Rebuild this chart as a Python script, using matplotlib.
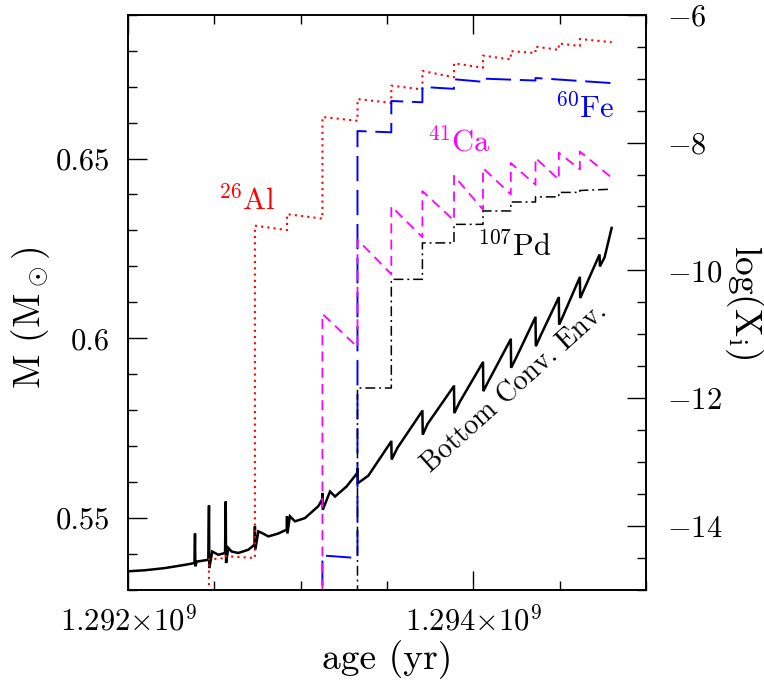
import numpy as np
import matplotlib
matplotlib.use("Agg")
import matplotlib.pyplot as plt
from matplotlib.ticker import FixedLocator, MultipleLocator, FixedFormatter

plt.rcParams["font.family"] = "serif"
plt.rcParams["font.serif"] = ["cmr10"]
plt.rcParams["mathtext.fontset"] = "cm"
plt.rcParams["axes.formatter.use_mathtext"] = True
plt.rcParams["axes.unicode_minus"] = False

# ages are in Myr after AGE0
AGE0 = 1.292e9

# bottom of the convective envelope (left axis, Msun)
env_age = [0.000, 0.100, 0.214, 0.330, 0.385, 0.388, 0.390, 0.398, 0.465, 0.469,
           0.471, 0.488, 0.523, 0.562, 0.566, 0.568, 0.581, 0.600, 0.639, 0.697,
           0.733, 0.735, 0.737, 0.755, 0.774, 0.813, 0.870, 0.919, 0.921, 0.923,
           0.938, 0.967, 1.025, 1.102, 1.124, 1.126, 1.128, 1.170, 1.199, 1.266,
           1.327, 1.329, 1.331, 1.392, 1.523, 1.525, 1.527, 1.560, 1.703, 1.705,
           1.707, 1.735, 1.886, 1.888, 1.890, 1.920, 2.054, 2.056, 2.058, 2.090,
           2.215, 2.217, 2.219, 2.250, 2.358, 2.360, 2.362, 2.390, 2.493, 2.495,
           2.497, 2.525, 2.615, 2.617, 2.619, 2.645, 2.731, 2.733, 2.760, 2.801]
env_mass = [0.5352, 0.5355, 0.5361, 0.5370, 0.5375, 0.5457, 0.5366, 0.5379, 0.5384, 0.5535,
            0.5361, 0.5407, 0.5398, 0.5403, 0.5546, 0.5375, 0.5417, 0.5407, 0.5403, 0.5412,
            0.5426, 0.5477, 0.5412, 0.5463, 0.5459, 0.5449, 0.5457, 0.5468, 0.5505, 0.5457,
            0.5505, 0.5491, 0.5500, 0.5533, 0.5551, 0.5570, 0.5523, 0.5574, 0.5560, 0.5588,
            0.5625, 0.5639, 0.5597, 0.5618, 0.5712, 0.5712, 0.5663, 0.5695, 0.5797, 0.5797,
            0.5732, 0.5762, 0.5866, 0.5866, 0.5792, 0.5822, 0.5932, 0.5932, 0.5853, 0.5883,
            0.5996, 0.5996, 0.5918, 0.5948, 0.6057, 0.6057, 0.5978, 0.6008, 0.6112, 0.6112,
            0.6038, 0.6068, 0.6168, 0.6168, 0.6112, 0.6140, 0.6233, 0.6200, 0.6225, 0.6307]

# log abundances (right axis)
al_age = [0.469, 0.469, 0.566, 0.566, 0.735, 0.735, 0.921, 0.921, 1.126, 1.126,
          1.329, 1.329, 1.525, 1.525, 1.705, 1.705, 1.888, 1.888, 2.056, 2.056,
          2.217, 2.217, 2.360, 2.360, 2.495, 2.495, 2.617, 2.617, 2.801]
al_logx = [-16.0, -14.52, -14.50, -14.47, -14.50, -9.30, -9.37, -9.12, -9.19, -7.60,
           -7.66, -7.32, -7.38, -7.11, -7.17, -6.88, -6.98, -6.76, -6.83, -6.64,
           -6.70, -6.57, -6.60, -6.50, -6.55, -6.45, -6.49, -6.38, -6.43]

fe_age = [1.126, 1.126, 1.329, 1.329, 1.525, 1.525, 1.705, 1.705, 1.888, 1.888,
          2.056, 2.056, 2.360, 2.360, 2.801]
fe_logx = [-16.0, -14.46, -14.50, -7.82, -7.84, -7.35, -7.37, -7.13, -7.16, -7.01,
           -7.05, -7.00, -7.03, -6.99, -7.07]

ca_age = [1.126, 1.126, 1.329, 1.329, 1.525, 1.525, 1.705, 1.705, 1.888, 1.888,
          2.056, 2.056, 2.217, 2.217, 2.360, 2.360, 2.495, 2.495, 2.617, 2.617, 2.801]
ca_logx = [-16.0, -10.68, -11.20, -9.52, -10.06, -9.00, -9.48, -8.76, -9.22, -8.52,
           -9.05, -8.40, -8.81, -8.32, -8.66, -8.24, -8.58, -8.16, -8.42, -8.14, -8.55]

pd_age = [1.329, 1.329, 1.525, 1.525, 1.705, 1.705, 1.888, 1.888, 2.056, 2.056,
          2.217, 2.217, 2.360, 2.360, 2.495, 2.495, 2.617, 2.617, 2.801]
pd_logx = [-16.0, -11.84, -11.84, -10.14, -10.14, -9.57, -9.57, -9.28, -9.28, -9.07,
           -9.07, -8.93, -8.93, -8.85, -8.85, -8.78, -8.78, -8.75, -8.73]

x_ticks = [1.292e9, 1.294e9]
x_ticklabels = [r"$1.292{\times}10^9$", r"$1.294{\times}10^9$"]
m_ticks = [0.55, 0.6, 0.65]
m_ticklabels = ["0.55", "0.6", "0.65"]
logx_ticks = [-14, -12, -10, -8, -6]
logx_ticklabels = [r"$-14$", r"$-12$", r"$-10$", r"$-8$", r"$-6$"]


def to_age(t):
    return AGE0 + 1e6 * np.asarray(t)


TICK_FS = 22
LABEL_FS = 27
ISO_FS = 22

fig = plt.figure(figsize=(7.64, 6.83), dpi=100)
ax = fig.add_axes([128 / 764, 1 - 590 / 683, 518 / 764, 575.3 / 683])
ax2 = ax.twinx()

ax.plot(to_age(env_age), env_mass, color="black", lw=1.8, solid_joinstyle="miter")

ax2.plot(to_age(al_age), al_logx, color="#ff0000", lw=1.5, linestyle=(0, (1, 2)))
ax2.plot(to_age(fe_age), fe_logx, color="#0000ff", lw=1.4, linestyle=(0, (13, 4.5)))
ax2.plot(to_age(ca_age), ca_logx, color="#ff00ff", lw=1.3, linestyle=(0, (5.5, 3.5)))
ax2.plot(to_age(pd_age), pd_logx, color="black", lw=1.1,
         linestyle=(0, (6.5, 2.5, 1.3, 2.5)))

ax.set_xlim(1.292e9, 1.295e9)
ax.set_ylim(0.53, 0.69)
ax2.set_ylim(-15, -6)

ax.xaxis.set_major_locator(FixedLocator(x_ticks))
ax.xaxis.set_major_formatter(FixedFormatter(x_ticklabels))
ax.xaxis.set_minor_locator(MultipleLocator(0.5e6))
ax.yaxis.set_major_locator(FixedLocator(m_ticks))
ax.yaxis.set_major_formatter(FixedFormatter(m_ticklabels))
ax.yaxis.set_minor_locator(MultipleLocator(0.01))
ax2.yaxis.set_major_locator(FixedLocator(logx_ticks))
ax2.yaxis.set_major_formatter(FixedFormatter(logx_ticklabels))
ax2.yaxis.set_minor_locator(MultipleLocator(0.5))

ax.tick_params(axis="x", which="both", direction="in", top=True, bottom=True,
               labelsize=TICK_FS, pad=11)
ax.tick_params(axis="y", which="both", direction="in", left=True, right=False,
               labelsize=TICK_FS, pad=13)
ax2.tick_params(axis="y", which="both", direction="in", left=False, right=True,
                labelsize=TICK_FS, pad=15)
for a in (ax, ax2):
    a.tick_params(which="major", length=13.5, width=1.0)
    a.tick_params(which="minor", length=6.5, width=1.0)
    for s in a.spines.values():
        s.set_linewidth(1.2)

fig.text(31 / 764, 1 - 318 / 683, r"M (M$_\odot$)", rotation=90,
         ha="center", va="center", fontsize=LABEL_FS)
fig.text(744 / 764, 1 - 302 / 683, r"$\mathrm{log(X_i)}$", rotation=270,
         ha="center", va="center", fontsize=LABEL_FS)
fig.text(387 / 764, 1 - 660 / 683, "age (yr)", ha="center", va="center",
         fontsize=LABEL_FS)

ax.text(0.2297, 0.6778, r"$^{26}$Al", color="#ff0000", fontsize=ISO_FS,
        ha="center", va="center", transform=ax.transAxes)
ax.text(0.882, 0.838, r"$^{60}$Fe", color="#0000ff", fontsize=ISO_FS,
        ha="center", va="center", transform=ax.transAxes)
ax.text(0.639, 0.7786, r"$^{41}$Ca", color="#ff00ff", fontsize=ISO_FS,
        ha="center", va="center", transform=ax.transAxes)
ax.text(0.745, 0.598, r"$^{107}$Pd", color="black", fontsize=ISO_FS,
        ha="center", va="center", transform=ax.transAxes)
ax.text(0.747, 0.351, "Bottom Conv. Env.", color="black", fontsize=20,
        rotation=42, ha="center", va="center", transform=ax.transAxes,
        rotation_mode="anchor")

fig.savefig("out.png", dpi=100)
